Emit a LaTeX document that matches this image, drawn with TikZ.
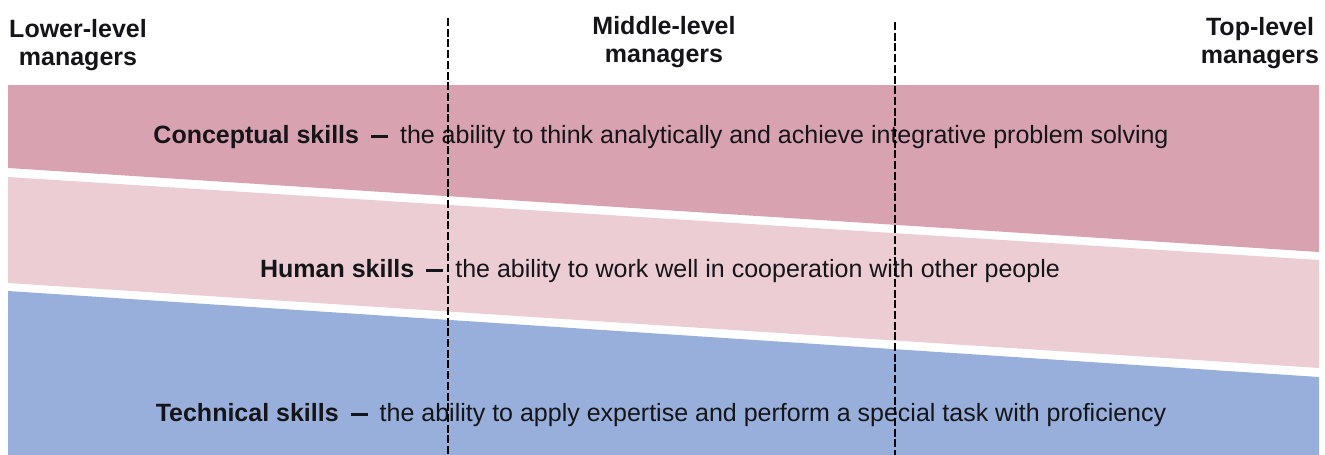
\documentclass[tikz,border=0pt]{standalone}
\usepackage{fontspec}
\setmainfont{Liberation Sans}
\definecolor{conceptc}{RGB}{217,162,176}
\definecolor{humanc}{RGB}{236,205,211}
\definecolor{techc}{RGB}{151,175,218}
\definecolor{textc}{RGB}{20,20,25}
\newcommand{\skilldash}{\hspace{12pt}\rule[5.4pt]{17pt}{2.6pt}\hspace{12pt}}
\begin{document}
\begin{tikzpicture}[x=1pt,y=-1pt,
  skill/.style={font=\fontsize{25}{29}\selectfont, text=textc, anchor=base, inner sep=0pt},
  level/.style={font=\bfseries\fontsize{25}{28}\selectfont, text=textc, align=center, inner sep=0pt},
  divider/.style={line width=2pt, dash pattern=on 8pt off 2.7pt}]
\useasboundingbox (0,0) rectangle (1325,455);
% bands
\fill[conceptc] (8,85) -- (1319,85) -- (1319,252) -- (8,168) -- cycle;
\fill[humanc] (8,177) -- (1319,260) -- (1319,368) -- (8,283) -- cycle;
\fill[techc] (8,291) -- (1319,377) -- (1319,455) -- (8,455) -- cycle;
% level headings
\node[level] (lower) at (78,45) {Lower-level\\managers};
\node[level] (middle) at (664,42) {Middle-level\\managers};
\node[level] (top) at (1260,43) {Top-level\\managers};
% skill texts
\node[skill] (conc) at (661,143) {\textbf{Conceptual skills}\skilldash the ability to think analytically and achieve integrative problem solving};
\node[skill] (hum) at (660,277) {\textbf{Human skills}\skilldash the ability to work well in cooperation with other people};
\node[skill] (tech) at (661,421) {\textbf{Technical skills}\skilldash the ability to apply expertise and perform a special task with proficiency};
% dividers
\coordinate (d1t) at (448,18);
\coordinate (d1b) at (448,455);
\coordinate (d2t) at (895,22);
\coordinate (d2b) at (895,455);
\draw[divider] (d1t) -- (d1b);
\draw[divider] (d2t) -- (d2b);
\end{tikzpicture}
\end{document}
